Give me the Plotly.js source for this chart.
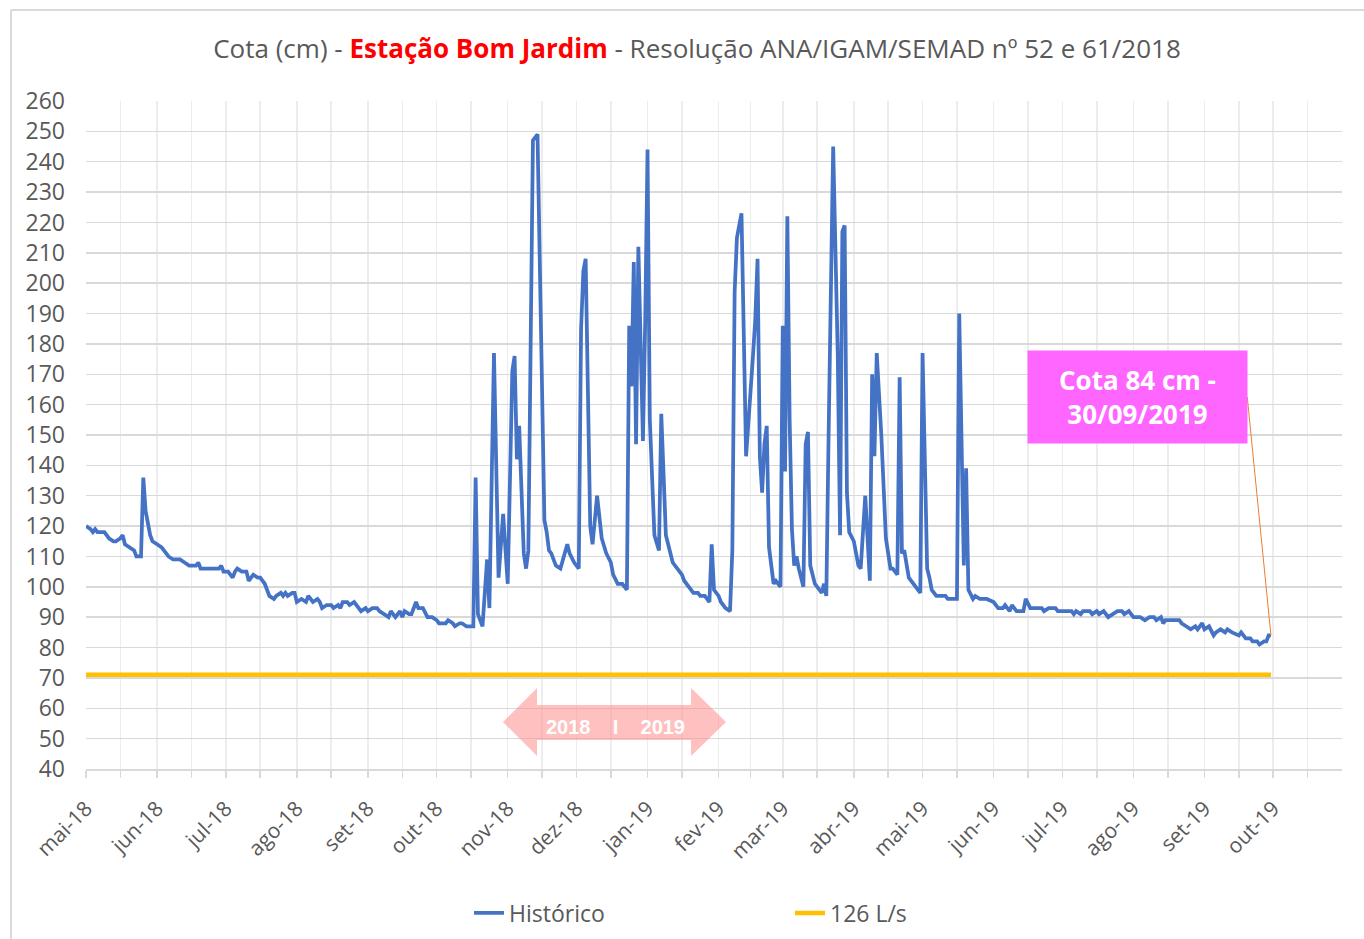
<!DOCTYPE html>
<html>
<head>
<meta charset="utf-8">
<script src="https://cdn.plot.ly/plotly-3.0.1.min.js"></script>
<style>
  html, body { margin: 0; padding: 0; background: #ffffff; }
  #chart { width: 1364px; height: 939px; }
</style>
</head>
<body>
<div id="chart"></div>
<script>
// ---- Data ----
const dates2018 = [
  "2018-05-01","2018-05-03","2018-05-04","2018-05-05","2018-05-06","2018-05-09","2018-05-10","2018-05-11","2018-05-13","2018-05-14",
  "2018-05-16","2018-05-17","2018-05-18","2018-05-20","2018-05-22","2018-05-23","2018-05-25","2018-05-26","2018-05-27","2018-05-29",
  "2018-05-30","2018-06-01","2018-06-03","2018-06-05","2018-06-06","2018-06-08","2018-06-11","2018-06-13","2018-06-15","2018-06-18",
  "2018-06-19","2018-06-20","2018-06-23","2018-06-28","2018-06-29","2018-06-30","2018-07-02","2018-07-04","2018-07-05","2018-07-06",
  "2018-07-08","2018-07-10","2018-07-11","2018-07-13","2018-07-15","2018-07-16","2018-07-18","2018-07-19","2018-07-20","2018-07-22",
  "2018-07-23","2018-07-25","2018-07-26","2018-07-27","2018-07-28","2018-07-30","2018-07-31","2018-08-01","2018-08-03","2018-08-05",
  "2018-08-06","2018-08-08","2018-08-10","2018-08-11","2018-08-12","2018-08-14","2018-08-16","2018-08-17","2018-08-19","2018-08-20",
  "2018-08-21","2018-08-23","2018-08-24","2018-08-26","2018-08-27","2018-08-29","2018-08-31","2018-09-01","2018-09-03","2018-09-05",
  "2018-09-06","2018-09-08","2018-09-10","2018-09-11","2018-09-12","2018-09-13","2018-09-15","2018-09-16","2018-09-17","2018-09-19",
  "2018-09-20","2018-09-22","2018-09-23","2018-09-25","2018-09-27","2018-09-29","2018-10-01","2018-10-02","2018-10-05","2018-10-06",
  "2018-10-08","2018-10-09","2018-10-11","2018-10-12","2018-10-14","2018-10-16","2018-10-17","2018-10-18","2018-10-19","2018-10-20",
  "2018-10-21","2018-10-23","2018-10-24","2018-10-26","2018-10-28","2018-10-30","2018-11-01","2018-11-03","2018-11-04","2018-11-05",
  "2018-11-06","2018-11-08","2018-11-09","2018-11-10","2018-11-12","2018-11-14","2018-11-17","2018-11-18","2018-11-19","2018-11-20",
  "2018-11-22","2018-11-24","2018-11-25","2018-11-27","2018-11-28","2018-11-30","2018-12-02","2018-12-03","2018-12-04","2018-12-05",
  "2018-12-07","2018-12-08","2018-12-10","2018-12-12","2018-12-14","2018-12-16","2018-12-17","2018-12-19","2018-12-21","2018-12-23",
  "2018-12-24","2018-12-25","2018-12-26","2018-12-27","2018-12-28","2018-12-30","2018-12-31"
];
const values2018 = [
  120,119,118,119,118,118,117,116,115,115,
  116,117,114,113,112,110,110,136,125,117,
  115,114,113,111,110,109,109,108,107,107,
  108,106,106,106,107,105,105,103,105,106,
  105,105,102,104,103,103,101,99,97,96,
  97,98,97,98,97,98,98,95,96,95,
  97,95,96,95,93,94,94,93,94,93,
  95,95,94,95,94,92,93,92,93,93,
  92,91,90,92,91,90,92,90,92,91,
  91,95,93,93,90,90,89,88,88,89,
  88,87,88,88,87,87,87,136,91,89,
  87,109,93,177,103,124,101,171,176,142,
  153,111,106,112,247,249,122,118,112,111,
  107,106,109,114,111,108,106,185,204,208,
  120,114,130,116,111,108,104,101,101,99,
  186,166,207,147,212,148,188
];
const dates2019 = [
  "2019-01-01","2019-01-02","2019-01-04","2019-01-06","2019-01-07","2019-01-09","2019-01-11","2019-01-12","2019-01-14","2019-01-16",
  "2019-01-17","2019-01-19","2019-01-21","2019-01-23","2019-01-24","2019-01-26","2019-01-28","2019-01-29","2019-01-30","2019-02-01",
  "2019-02-02","2019-02-04","2019-02-06","2019-02-07","2019-02-08","2019-02-09","2019-02-11","2019-02-13","2019-02-15","2019-02-16",
  "2019-02-17","2019-02-18","2019-02-19","2019-02-20","2019-02-21","2019-02-22","2019-02-23","2019-02-24","2019-02-25","2019-02-26",
  "2019-02-28","2019-03-01","2019-03-02","2019-03-03","2019-03-04","2019-03-05","2019-03-06","2019-03-07","2019-03-08","2019-03-10",
  "2019-03-11","2019-03-12","2019-03-13","2019-03-15","2019-03-17","2019-03-18","2019-03-19","2019-03-20","2019-03-21","2019-03-23",
  "2019-03-25","2019-03-26","2019-03-27","2019-03-28","2019-03-29","2019-03-30","2019-04-01","2019-04-03","2019-04-04","2019-04-06",
  "2019-04-08","2019-04-09","2019-04-10","2019-04-11","2019-04-13","2019-04-15","2019-04-17","2019-04-18","2019-04-20","2019-04-21",
  "2019-04-22","2019-04-23","2019-04-25","2019-04-27","2019-04-28","2019-04-30","2019-05-01","2019-05-03","2019-05-04","2019-05-05",
  "2019-05-07","2019-05-09","2019-05-11","2019-05-12","2019-05-16","2019-05-17","2019-05-19","2019-05-20","2019-05-21","2019-05-23",
  "2019-05-24","2019-05-26","2019-05-29","2019-06-01","2019-06-03","2019-06-05","2019-06-06","2019-06-08","2019-06-09","2019-06-11",
  "2019-06-14","2019-06-15","2019-06-17","2019-06-22","2019-06-23","2019-06-25","2019-06-28","2019-06-29","2019-07-05","2019-07-06",
  "2019-07-07","2019-07-09","2019-07-10","2019-07-13","2019-07-14","2019-07-16","2019-07-17","2019-07-19","2019-07-21","2019-07-23",
  "2019-07-25","2019-07-27","2019-07-28","2019-07-30","2019-08-01","2019-08-04","2019-08-06","2019-08-08","2019-08-10","2019-08-11",
  "2019-08-13","2019-08-14","2019-08-15","2019-08-21","2019-08-22","2019-08-24","2019-08-26","2019-08-28","2019-08-29","2019-08-31",
  "2019-09-01","2019-09-03","2019-09-05","2019-09-06","2019-09-08","2019-09-10","2019-09-11","2019-09-13","2019-09-16","2019-09-17",
  "2019-09-19","2019-09-21","2019-09-22","2019-09-24","2019-09-25","2019-09-27","2019-09-28","2019-09-29","2019-09-30"
];
const values2019 = [
  244,155,117,112,157,117,111,108,106,104,
  102,100,98,98,97,97,95,114,99,97,
  95,93,92,112,197,215,223,143,163,176,
  188,208,143,131,147,153,113,106,101,102,
  100,186,138,222,155,119,107,110,106,100,
  147,151,107,101,99,98,101,97,150,245,
  176,117,217,219,131,118,115,107,106,130,
  102,170,143,177,150,116,106,106,104,169,
  111,112,103,101,100,98,177,106,103,99,
  97,97,97,96,96,190,107,139,99,96,
  97,96,96,95,93,93,94,92,94,92,
  92,96,93,93,92,93,93,92,92,91,
  92,91,92,92,91,92,91,92,90,91,
  92,92,91,92,90,90,89,90,90,89,
  90,88,89,89,88,87,86,87,86,88,
  86,87,84,85,86,85,86,85,84,85,
  83,83,82,82,81,82,82,84,84
];
const limitDates = ["2018-05-01", "2019-09-30"];
const limitValues = [71, 71];

const seriesNames = ["Histórico", "126 L/s"];
const monthTickVals = [
  "2018-05-01","2018-06-01","2018-07-01","2018-08-01","2018-09-01","2018-10-01","2018-11-01","2018-12-01","2019-01-01",
  "2019-02-01","2019-03-01","2019-04-01","2019-05-01","2019-06-01","2019-07-01","2019-08-01","2019-09-01","2019-10-01"
];
const monthTickText = [
  "mai-18","jun-18","jul-18","ago-18","set-18","out-18","nov-18","dez-18","jan-19",
  "fev-19","mar-19","abr-19","mai-19","jun-19","jul-19","ago-19","set-19","out-19"
];
const midMonthVals = [
  "2018-05-16","2018-06-16","2018-07-16","2018-08-16","2018-09-16","2018-10-16","2018-11-16","2018-12-16","2019-01-16",
  "2019-02-15","2019-03-16","2019-04-16","2019-05-16","2019-06-16","2019-07-16","2019-08-16","2019-09-16","2019-10-16"
];
const calloutText = "Cota 84 cm -<br>30/09/2019";
const calloutPoint = {x: "2019-09-30", y: 84};
const periodText = "2018\u00a0\u00a0\u00a0 I \u00a0\u00a0\u00a02019";

// ---- Chart ----
const histX = dates2018.concat(dates2019);
const histY = values2018.concat(values2019);

const traces = [
  {
    x: histX, y: histY, name: seriesNames[0], type: "scatter", mode: "lines",
    line: {color: "#4472C4", width: 3.75}
  },
  {
    x: limitDates, y: limitValues, name: seriesNames[1], type: "scatter", mode: "lines",
    line: {color: "#FFC000", width: 4.5}
  }
];

// helpers to place decorations in paper space from pixel positions
const L = 86, R = 1342, T = 101, B = 769, W = 1364, H = 939;
const px = v => (v - L) / (R - L);
const py = v => (B - v) / (B - T);

const arrowPts = [[503,722],[537,688],[537,705],[691,705],[691,688],[726,722],[691,756],[691,740],[537,740],[537,756]];
const arrowPath = "M" + arrowPts.map(p => px(p[0]).toFixed(4) + "," + py(p[1]).toFixed(4)).join("L") + "Z";

const layout = {
  width: W, height: H,
  margin: {l: L, r: W - R, t: T, b: H - B, pad: 0},
  paper_bgcolor: "#ffffff", plot_bgcolor: "#ffffff",
  font: {family: "'Open Sans', sans-serif", color: "#595959"},
  title: {
    text: "Cota (cm) - <b><span style='color:#FF0000'>Estação Bom Jardim</span></b> - Resolução ANA/IGAM/SEMAD nº 52 e 61/2018",
    font: {family: "'Open Sans', sans-serif", size: 26, color: "#595959"},
    x: 697 / W, xanchor: "center", xref: "container",
    y: 1 - 49 / H, yanchor: "middle", yref: "container"
  },
  xaxis: {
    type: "date",
    range: ["2018-05-01", "2019-10-31"],
    tickmode: "array", tickvals: monthTickVals, ticktext: monthTickText,
    tickangle: -45,
    tickfont: {size: 21, color: "#595959"},
    ticks: "outside", ticklen: 7, tickwidth: 1.5, tickcolor: "#D9D9D9",
    ticklabelstandoff: 10,
    showgrid: true, gridcolor: "#EDEDED", gridwidth: 1.5,
    showline: true, linecolor: "#D9D9D9", linewidth: 2,
    zeroline: false, fixedrange: true, automargin: false,
    minor: {
      tickmode: "array", tickvals: midMonthVals,
      showgrid: true, gridcolor: "#EDEDED", gridwidth: 1.5,
      ticks: "outside", ticklen: 7, tickwidth: 1.5, tickcolor: "#D9D9D9"
    }
  },
  yaxis: {
    range: [40, 260], tick0: 40, dtick: 10,
    tickfont: {size: 23, color: "#595959"},
    ticks: "", ticklabelstandoff: 20,
    showgrid: true, gridcolor: "#D9D9D9", gridwidth: 1.5,
    showline: false, zeroline: false, fixedrange: true, automargin: false
  },
  showlegend: true,
  legend: {
    orientation: "h",
    xref: "container", yref: "container",
    x: 469 / W, xanchor: "left",
    y: 1 - 913 / H, yanchor: "middle",
    font: {size: 23, color: "#595959"},
    entrywidthmode: "pixels", entrywidth: 276,
    bgcolor: "rgba(0,0,0,0)"
  },
  shapes: [
    {type: "path", xref: "paper", yref: "paper", path: arrowPath,
     fillcolor: "rgba(255,140,140,0.55)", line: {width: 0}, layer: "above"},
    {type: "line", xref: "x", yref: "y", x0: "2019-09-19 16:00", y0: 162.5,
     x1: calloutPoint.x, y1: calloutPoint.y, line: {color: "#ED7D31", width: 1}},
    {type: "line", xref: "paper", yref: "paper", x0: px(11), x1: px(1366), y0: py(10), y1: py(10),
     line: {color: "#D9D9D9", width: 2}},
    {type: "line", xref: "paper", yref: "paper", x0: px(11), x1: px(11), y0: py(10), y1: py(941),
     line: {color: "#D9D9D9", width: 2}}
  ],
  annotations: [
    {xref: "paper", yref: "paper", x: px(1137.5), y: py(397), xanchor: "center", yanchor: "middle",
     text: calloutText, showarrow: false, align: "center", valign: "middle",
     bgcolor: "#FF66FF", width: 219, height: 92, borderpad: 0,
     font: {family: "'Open Sans', sans-serif", size: 26, color: "#ffffff", weight: 700}},
    {xref: "paper", yref: "paper", x: px(615), y: py(727), xanchor: "center", yanchor: "middle",
     text: periodText, showarrow: false,
     font: {family: "'Liberation Sans', Arial, sans-serif", size: 20, color: "#ffffff", weight: 700}}
  ]
};

Plotly.newPlot("chart", traces, layout, {displayModeBar: false, staticPlot: true});
</script>
</body>
</html>
